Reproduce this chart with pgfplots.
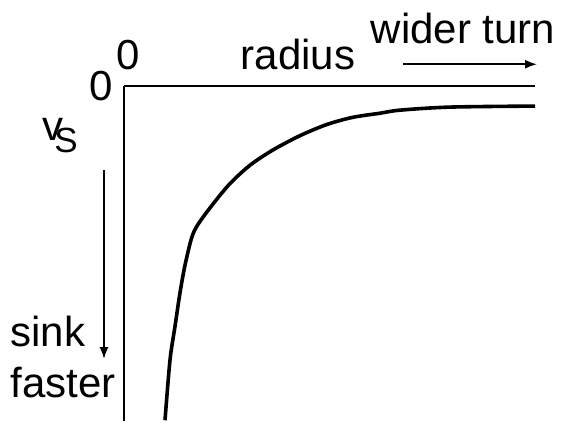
\documentclass[border=0pt]{standalone}
\usepackage{fontspec}
\setmainfont{Liberation Sans}
\usepackage{pgfplots}
\usetikzlibrary{arrows.meta}
\pgfplotsset{compat=1.18}
\begin{document}
\begin{tikzpicture}
\begin{axis}[
  scale only axis,
  width=205.5pt, height=164.25pt,
  xmin=0, xmax=411, ymin=-328.5, ymax=0,
  axis x line*=top, axis y line*=left,
  axis line style={-, line width=0.7pt},
  xtick=\empty, ytick=\empty,
  clip=false,
]
\path (axis cs:-124,84.5) rectangle (axis cs:442,-328.5);
\addplot[smooth, line width=1.8pt, black, tension=0.5] coordinates {
(41,-327.5) (46,-268.5) (51,-235.5) (56,-202.5) (61,-175.5) (67.7,-148.5)
(74,-135.5) (89,-115.5) (106,-95.5) (126,-77.5) (149,-62.5) (176,-48.5)
(203,-37.5) (229,-30.5) (256,-26.5) (276,-23.5) (326,-20.5) (411,-19.5)
};
\tikzset{lab/.style={inner sep=0pt, font=\fontsize{21pt}{25pt}\selectfont}}
\node[lab, anchor=base] at (axis cs:174,16.5) {radius};
\node[lab, anchor=base] at (axis cs:339,41.5) {wider turn};
\node[lab, anchor=base] at (axis cs:4,16.5) {0};
\node[lab, anchor=center] at (axis cs:-23,0) {0};
\node[lab, anchor=base west] at (axis cs:-82,-53.5) {v\kern-4.5pt\raisebox{-6pt}{\fontsize{17.5pt}{20pt}\selectfont S}};
\node[lab, anchor=base west] at (axis cs:-114,-255.5) {sink};
\node[lab, anchor=base west] at (axis cs:-114,-305.5) {faster};
\draw[-{Latex[length=6pt,width=4.5pt]}, line width=0.9pt] (axis cs:279,21.5) -- (axis cs:413,21.5);
\draw[-{Latex[length=6pt,width=4.5pt]}, line width=0.9pt] (axis cs:-20,-82.5) -- (axis cs:-20,-267.5);
\end{axis}
\end{tikzpicture}
\end{document}
